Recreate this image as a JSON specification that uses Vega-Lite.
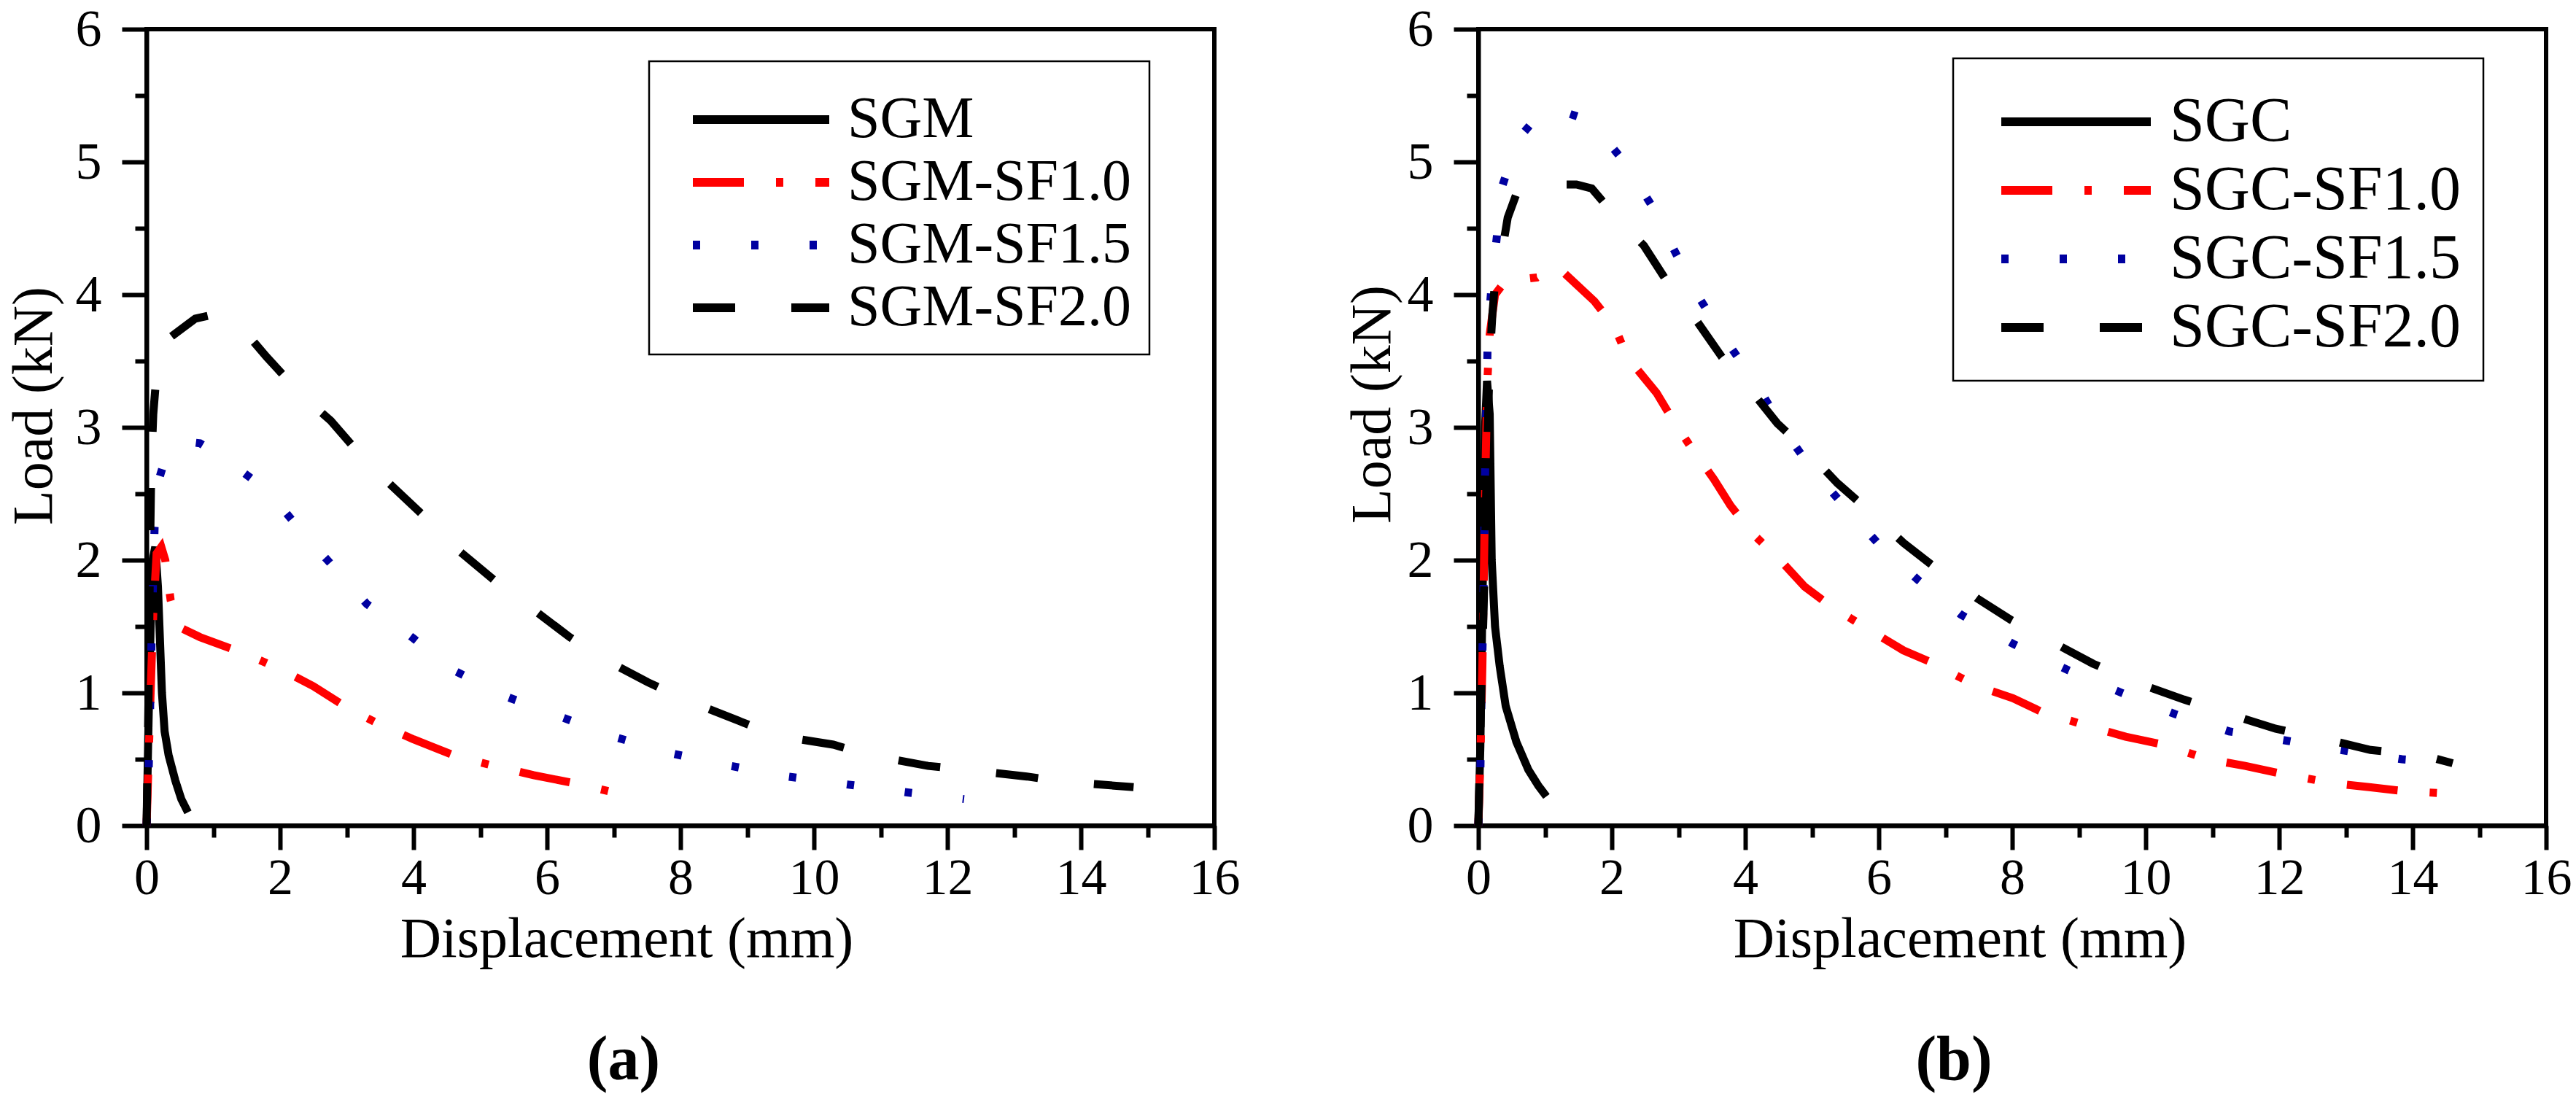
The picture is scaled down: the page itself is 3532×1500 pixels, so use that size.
{
  "$schema": "https://vega.github.io/schema/vega-lite/v6.json",
  "padding": {"left": 5, "top": 1, "right": 0, "bottom": 0},
  "background": "white",
  "spacing": 362,
  "bounds": "flush",
  "hconcat": [
    {
      "width": 1464,
      "height": 1092,
      "title": {"text": "(a)", "dx": -78, "offset": 85},
      "data": {"values": [
        {"x": 0, "y": 0, "s": "SGM"}, {"x": 0.03, "y": 0.8, "s": "SGM"}, {"x": 0.06, "y": 1.5, "s": "SGM"}, {"x": 0.09, "y": 2.0, "s": "SGM"},
        {"x": 0.13, "y": 2.1, "s": "SGM"}, {"x": 0.17, "y": 1.8, "s": "SGM"}, {"x": 0.2, "y": 1.4, "s": "SGM"}, {"x": 0.23, "y": 1.0, "s": "SGM"},
        {"x": 0.27, "y": 0.71, "s": "SGM"}, {"x": 0.33, "y": 0.53, "s": "SGM"}, {"x": 0.43, "y": 0.34, "s": "SGM"}, {"x": 0.52, "y": 0.2, "s": "SGM"},
        {"x": 0.62, "y": 0.1, "s": "SGM"},

        {"x": 0, "y": 0, "s": "SGM-SF1.0"}, {"x": 0.03, "y": 0.5, "s": "SGM-SF1.0"}, {"x": 0.06, "y": 1.0, "s": "SGM-SF1.0"}, {"x": 0.1, "y": 1.6, "s": "SGM-SF1.0"},
        {"x": 0.15, "y": 2.05, "s": "SGM-SF1.0"}, {"x": 0.22, "y": 2.1, "s": "SGM-SF1.0"}, {"x": 0.28, "y": 2.0, "s": "SGM-SF1.0"}, {"x": 0.36, "y": 1.7, "s": "SGM-SF1.0"},
        {"x": 0.47, "y": 1.5, "s": "SGM-SF1.0"}, {"x": 0.8, "y": 1.42, "s": "SGM-SF1.0"}, {"x": 1.5, "y": 1.29, "s": "SGM-SF1.0"}, {"x": 2.0, "y": 1.18, "s": "SGM-SF1.0"},
        {"x": 2.5, "y": 1.05, "s": "SGM-SF1.0"}, {"x": 3.0, "y": 0.89, "s": "SGM-SF1.0"}, {"x": 3.5, "y": 0.76, "s": "SGM-SF1.0"}, {"x": 4.0, "y": 0.65, "s": "SGM-SF1.0"},
        {"x": 4.6, "y": 0.53, "s": "SGM-SF1.0"}, {"x": 5.2, "y": 0.45, "s": "SGM-SF1.0"}, {"x": 5.8, "y": 0.38, "s": "SGM-SF1.0"}, {"x": 6.4, "y": 0.32, "s": "SGM-SF1.0"},
        {"x": 7.0, "y": 0.25, "s": "SGM-SF1.0"},

        {"x": 0, "y": 0, "s": "SGM-SF1.5"}, {"x": 0.03, "y": 0.4, "s": "SGM-SF1.5"}, {"x": 0.05, "y": 0.8, "s": "SGM-SF1.5"}, {"x": 0.06, "y": 1.1, "s": "SGM-SF1.5"},
        {"x": 0.08, "y": 1.5, "s": "SGM-SF1.5"}, {"x": 0.1, "y": 1.9, "s": "SGM-SF1.5"}, {"x": 0.12, "y": 2.25, "s": "SGM-SF1.5"}, {"x": 0.18, "y": 2.6, "s": "SGM-SF1.5"},
        {"x": 0.3, "y": 2.8, "s": "SGM-SF1.5"}, {"x": 0.48, "y": 2.9, "s": "SGM-SF1.5"}, {"x": 0.8, "y": 2.88, "s": "SGM-SF1.5"}, {"x": 1.1, "y": 2.79, "s": "SGM-SF1.5"},
        {"x": 1.8, "y": 2.53, "s": "SGM-SF1.5"}, {"x": 2.3, "y": 2.23, "s": "SGM-SF1.5"}, {"x": 2.8, "y": 1.95, "s": "SGM-SF1.5"}, {"x": 3.3, "y": 1.67, "s": "SGM-SF1.5"},
        {"x": 4.0, "y": 1.41, "s": "SGM-SF1.5"}, {"x": 4.6, "y": 1.17, "s": "SGM-SF1.5"}, {"x": 5.4, "y": 0.97, "s": "SGM-SF1.5"}, {"x": 6.2, "y": 0.82, "s": "SGM-SF1.5"},
        {"x": 7.0, "y": 0.67, "s": "SGM-SF1.5"}, {"x": 7.9, "y": 0.54, "s": "SGM-SF1.5"}, {"x": 8.75, "y": 0.45, "s": "SGM-SF1.5"}, {"x": 9.6, "y": 0.37, "s": "SGM-SF1.5"},
        {"x": 10.5, "y": 0.31, "s": "SGM-SF1.5"}, {"x": 11.4, "y": 0.25, "s": "SGM-SF1.5"}, {"x": 12.25, "y": 0.2, "s": "SGM-SF1.5"},

        {"x": 0, "y": 0, "s": "SGM-SF2.0"}, {"x": 0.03, "y": 1.0, "s": "SGM-SF2.0"}, {"x": 0.05, "y": 2.0, "s": "SGM-SF2.0"}, {"x": 0.07, "y": 2.7, "s": "SGM-SF2.0"},
        {"x": 0.1, "y": 3.1, "s": "SGM-SF2.0"}, {"x": 0.14, "y": 3.35, "s": "SGM-SF2.0"}, {"x": 0.36, "y": 3.68, "s": "SGM-SF2.0"}, {"x": 0.73, "y": 3.82, "s": "SGM-SF2.0"},
        {"x": 1.0, "y": 3.85, "s": "SGM-SF2.0"}, {"x": 1.41, "y": 3.76, "s": "SGM-SF2.0"}, {"x": 1.8, "y": 3.53, "s": "SGM-SF2.0"}, {"x": 2.33, "y": 3.24, "s": "SGM-SF2.0"},
        {"x": 2.76, "y": 3.05, "s": "SGM-SF2.0"}, {"x": 3.26, "y": 2.76, "s": "SGM-SF2.0"}, {"x": 3.63, "y": 2.58, "s": "SGM-SF2.0"}, {"x": 4.18, "y": 2.32, "s": "SGM-SF2.0"},
        {"x": 4.61, "y": 2.1, "s": "SGM-SF2.0"}, {"x": 5.23, "y": 1.84, "s": "SGM-SF2.0"}, {"x": 5.66, "y": 1.68, "s": "SGM-SF2.0"}, {"x": 6.34, "y": 1.42, "s": "SGM-SF2.0"},
        {"x": 6.83, "y": 1.26, "s": "SGM-SF2.0"}, {"x": 7.51, "y": 1.08, "s": "SGM-SF2.0"}, {"x": 8.07, "y": 0.95, "s": "SGM-SF2.0"}, {"x": 8.87, "y": 0.79, "s": "SGM-SF2.0"},
        {"x": 9.42, "y": 0.68, "s": "SGM-SF2.0"}, {"x": 10.29, "y": 0.61, "s": "SGM-SF2.0"}, {"x": 10.84, "y": 0.53, "s": "SGM-SF2.0"}, {"x": 11.71, "y": 0.45, "s": "SGM-SF2.0"},
        {"x": 12.29, "y": 0.42, "s": "SGM-SF2.0"}, {"x": 13.19, "y": 0.37, "s": "SGM-SF2.0"}, {"x": 13.74, "y": 0.33, "s": "SGM-SF2.0"}, {"x": 14.79, "y": 0.29, "s": "SGM-SF2.0"}
      ]},
      "layer": [
        {
          "mark": {"type": "line", "strokeWidth": 11, "strokeCap": "butt"},
          "encoding": {
            "x": {"field": "x", "type": "quantitative", "scale": {"domain": [0, 16]},
              "axis": {"values": [0, 2, 4, 6, 8, 10, 12, 14, 16], "tickSize": 33, "labelFontSize": 70, "labelPadding": 60, "labelBaseline": "alphabetic",
                "title": "Displacement (mm)", "titleFontSize": 78, "titleX": 658, "titleY": 179, "titleAlign": "center", "titleBaseline": "alphabetic", "titleAngle": 0}},
            "y": {"field": "y", "type": "quantitative", "scale": {"domain": [0, 6]},
              "axis": {"values": [0, 1, 2, 3, 4, 5, 6], "tickSize": 34, "labelFontSize": 72, "labelPadding": 28,
                "title": "Load (kN)", "titleFontSize": 78, "titleX": -131, "titleY": 516, "titleAlign": "center", "titleBaseline": "alphabetic", "titleAngle": -90}},
            "color": {"field": "s", "type": "nominal",
              "scale": {"domain": ["SGM", "SGM-SF1.0", "SGM-SF1.5", "SGM-SF2.0"], "range": ["#000000", "#FF0000", "#0000A0", "#000000"]},
              "legend": {"title": " ", "titleFontSize": 10, "titlePadding": 6, "orient": "none", "legendX": 689, "legendY": 44, "padding": 24,
                "symbolType": "M-5,0L5,0", "symbolSize": 1399, "symbolStrokeWidth": 12, "symbolOffset": 89.5, "labelOffset": 78.5, "labelFontSize": 80, "rowPadding": 6}},
            "strokeDash": {"field": "s", "type": "nominal",
              "scale": {"domain": ["SGM", "SGM-SF1.0", "SGM-SF1.5", "SGM-SF2.0"], "range": [[1, 0], [70, 44, 10, 44], [10, 70], [58, 77]]},
              "legend": {"title": " ", "titleFontSize": 10, "titlePadding": 6, "orient": "none", "legendX": 689, "legendY": 44, "padding": 24,
                "symbolType": "M-5,0L5,0", "symbolSize": 1399, "symbolStrokeWidth": 12, "symbolOffset": 89.5, "labelOffset": 78.5, "labelFontSize": 80, "rowPadding": 6}}
          }
        },
        {
          "mark": {"type": "point", "opacity": 0},
          "encoding": {
            "x": {"field": "x", "type": "quantitative", "scale": {"domain": [0, 16]},
              "axis": {"orient": "bottom", "values": [1, 3, 5, 7, 9, 11, 13, 15], "tickSize": 16, "labels": false, "domain": false, "title": null}},
            "y": {"field": "y", "type": "quantitative", "scale": {"domain": [0, 6]},
              "axis": {"orient": "left", "values": [0.5, 1.5, 2.5, 3.5, 4.5, 5.5], "tickSize": 16, "labels": false, "domain": false, "title": null}}
          }
        }
      ],
      "resolve": {"axis": {"x": "independent", "y": "independent"}}
    },
    {
      "width": 1464,
      "height": 1092,
      "title": {"text": "(b)", "dx": -80, "offset": 85},
      "data": {"values": [
        {"x": 0, "y": 0, "s": "SGC"}, {"x": 0.03, "y": 0.6, "s": "SGC"}, {"x": 0.05, "y": 1.3, "s": "SGC"}, {"x": 0.08, "y": 2.3, "s": "SGC"},
        {"x": 0.1, "y": 3.0, "s": "SGC"}, {"x": 0.13, "y": 3.35, "s": "SGC"}, {"x": 0.17, "y": 3.1, "s": "SGC"}, {"x": 0.2, "y": 2.0, "s": "SGC"},
        {"x": 0.25, "y": 1.5, "s": "SGC"}, {"x": 0.32, "y": 1.2, "s": "SGC"}, {"x": 0.41, "y": 0.9, "s": "SGC"}, {"x": 0.57, "y": 0.63, "s": "SGC"},
        {"x": 0.75, "y": 0.42, "s": "SGC"}, {"x": 0.9, "y": 0.3, "s": "SGC"}, {"x": 1.02, "y": 0.22, "s": "SGC"},

        {"x": 0, "y": 0, "s": "SGC-SF1.0"}, {"x": 0.03, "y": 0.5, "s": "SGC-SF1.0"}, {"x": 0.06, "y": 1.2, "s": "SGC-SF1.0"}, {"x": 0.08, "y": 1.8, "s": "SGC-SF1.0"},
        {"x": 0.1, "y": 2.5, "s": "SGC-SF1.0"}, {"x": 0.12, "y": 3.0, "s": "SGC-SF1.0"}, {"x": 0.14, "y": 3.4, "s": "SGC-SF1.0"}, {"x": 0.17, "y": 3.7, "s": "SGC-SF1.0"},
        {"x": 0.25, "y": 4.0, "s": "SGC-SF1.0"}, {"x": 0.4, "y": 4.1, "s": "SGC-SF1.0"}, {"x": 0.88, "y": 4.13, "s": "SGC-SF1.0"}, {"x": 1.1, "y": 4.2, "s": "SGC-SF1.0"},
        {"x": 1.25, "y": 4.18, "s": "SGC-SF1.0"}, {"x": 1.74, "y": 3.95, "s": "SGC-SF1.0"}, {"x": 2.05, "y": 3.75, "s": "SGC-SF1.0"}, {"x": 2.23, "y": 3.53, "s": "SGC-SF1.0"},
        {"x": 2.67, "y": 3.26, "s": "SGC-SF1.0"}, {"x": 2.91, "y": 3.06, "s": "SGC-SF1.0"}, {"x": 3.16, "y": 2.87, "s": "SGC-SF1.0"}, {"x": 3.53, "y": 2.61, "s": "SGC-SF1.0"},
        {"x": 3.78, "y": 2.41, "s": "SGC-SF1.0"}, {"x": 4.09, "y": 2.21, "s": "SGC-SF1.0"}, {"x": 4.56, "y": 1.98, "s": "SGC-SF1.0"}, {"x": 4.89, "y": 1.8, "s": "SGC-SF1.0"},
        {"x": 5.26, "y": 1.66, "s": "SGC-SF1.0"}, {"x": 5.94, "y": 1.45, "s": "SGC-SF1.0"}, {"x": 6.37, "y": 1.32, "s": "SGC-SF1.0"}, {"x": 6.74, "y": 1.24, "s": "SGC-SF1.0"},
        {"x": 7.48, "y": 1.05, "s": "SGC-SF1.0"}, {"x": 8.01, "y": 0.96, "s": "SGC-SF1.0"}, {"x": 8.47, "y": 0.85, "s": "SGC-SF1.0"}, {"x": 9.21, "y": 0.74, "s": "SGC-SF1.0"},
        {"x": 9.7, "y": 0.67, "s": "SGC-SF1.0"}, {"x": 10.26, "y": 0.61, "s": "SGC-SF1.0"}, {"x": 10.94, "y": 0.5, "s": "SGC-SF1.0"}, {"x": 11.49, "y": 0.45, "s": "SGC-SF1.0"},
        {"x": 12.05, "y": 0.39, "s": "SGC-SF1.0"}, {"x": 12.79, "y": 0.32, "s": "SGC-SF1.0"}, {"x": 13.35, "y": 0.29, "s": "SGC-SF1.0"}, {"x": 13.86, "y": 0.26, "s": "SGC-SF1.0"},
        {"x": 14.6, "y": 0.24, "s": "SGC-SF1.0"},

        {"x": 0, "y": 0, "s": "SGC-SF1.5"}, {"x": 0.03, "y": 0.4, "s": "SGC-SF1.5"}, {"x": 0.05, "y": 1.1, "s": "SGC-SF1.5"}, {"x": 0.07, "y": 1.5, "s": "SGC-SF1.5"},
        {"x": 0.09, "y": 2.2, "s": "SGC-SF1.5"}, {"x": 0.11, "y": 3.0, "s": "SGC-SF1.5"}, {"x": 0.13, "y": 3.35, "s": "SGC-SF1.5"}, {"x": 0.14, "y": 3.7, "s": "SGC-SF1.5"},
        {"x": 0.2, "y": 4.08, "s": "SGC-SF1.5"}, {"x": 0.28, "y": 4.45, "s": "SGC-SF1.5"}, {"x": 0.36, "y": 4.82, "s": "SGC-SF1.5"}, {"x": 0.59, "y": 5.17, "s": "SGC-SF1.5"},
        {"x": 1.02, "y": 5.42, "s": "SGC-SF1.5"}, {"x": 1.68, "y": 5.31, "s": "SGC-SF1.5"}, {"x": 2.17, "y": 5.01, "s": "SGC-SF1.5"}, {"x": 2.6, "y": 4.67, "s": "SGC-SF1.5"},
        {"x": 2.94, "y": 4.33, "s": "SGC-SF1.5"}, {"x": 3.28, "y": 4.0, "s": "SGC-SF1.5"}, {"x": 3.69, "y": 3.67, "s": "SGC-SF1.5"}, {"x": 4.15, "y": 3.34, "s": "SGC-SF1.5"},
        {"x": 4.54, "y": 3.01, "s": "SGC-SF1.5"}, {"x": 4.99, "y": 2.69, "s": "SGC-SF1.5"}, {"x": 5.48, "y": 2.41, "s": "SGC-SF1.5"}, {"x": 6.0, "y": 2.12, "s": "SGC-SF1.5"},
        {"x": 6.59, "y": 1.85, "s": "SGC-SF1.5"}, {"x": 7.23, "y": 1.59, "s": "SGC-SF1.5"}, {"x": 8.01, "y": 1.37, "s": "SGC-SF1.5"}, {"x": 8.84, "y": 1.17, "s": "SGC-SF1.5"},
        {"x": 9.64, "y": 1.0, "s": "SGC-SF1.5"}, {"x": 10.44, "y": 0.84, "s": "SGC-SF1.5"}, {"x": 11.25, "y": 0.71, "s": "SGC-SF1.5"}, {"x": 12.11, "y": 0.64, "s": "SGC-SF1.5"},
        {"x": 13.04, "y": 0.56, "s": "SGC-SF1.5"}, {"x": 13.84, "y": 0.5, "s": "SGC-SF1.5"}, {"x": 14.58, "y": 0.47, "s": "SGC-SF1.5"},

        {"x": 0, "y": 0, "s": "SGC-SF2.0"}, {"x": 0.03, "y": 0.7, "s": "SGC-SF2.0"}, {"x": 0.06, "y": 1.3, "s": "SGC-SF2.0"}, {"x": 0.08, "y": 1.65, "s": "SGC-SF2.0"},
        {"x": 0.1, "y": 2.1, "s": "SGC-SF2.0"}, {"x": 0.13, "y": 2.8, "s": "SGC-SF2.0"}, {"x": 0.17, "y": 3.5, "s": "SGC-SF2.0"}, {"x": 0.21, "y": 3.85, "s": "SGC-SF2.0"},
        {"x": 0.25, "y": 4.1, "s": "SGC-SF2.0"}, {"x": 0.36, "y": 4.34, "s": "SGC-SF2.0"}, {"x": 0.44, "y": 4.58, "s": "SGC-SF2.0"}, {"x": 0.6, "y": 4.8, "s": "SGC-SF2.0"},
        {"x": 0.94, "y": 4.83, "s": "SGC-SF2.0"}, {"x": 1.47, "y": 4.83, "s": "SGC-SF2.0"}, {"x": 1.7, "y": 4.8, "s": "SGC-SF2.0"}, {"x": 2.07, "y": 4.58, "s": "SGC-SF2.0"},
        {"x": 2.48, "y": 4.37, "s": "SGC-SF2.0"}, {"x": 2.89, "y": 4.05, "s": "SGC-SF2.0"}, {"x": 3.22, "y": 3.84, "s": "SGC-SF2.0"}, {"x": 3.65, "y": 3.53, "s": "SGC-SF2.0"},
        {"x": 4.02, "y": 3.32, "s": "SGC-SF2.0"}, {"x": 4.48, "y": 3.03, "s": "SGC-SF2.0"}, {"x": 4.89, "y": 2.84, "s": "SGC-SF2.0"}, {"x": 5.38, "y": 2.58, "s": "SGC-SF2.0"},
        {"x": 5.81, "y": 2.39, "s": "SGC-SF2.0"}, {"x": 6.37, "y": 2.13, "s": "SGC-SF2.0"}, {"x": 6.83, "y": 1.95, "s": "SGC-SF2.0"}, {"x": 7.48, "y": 1.71, "s": "SGC-SF2.0"},
        {"x": 7.98, "y": 1.55, "s": "SGC-SF2.0"}, {"x": 8.65, "y": 1.37, "s": "SGC-SF2.0"}, {"x": 9.21, "y": 1.22, "s": "SGC-SF2.0"}, {"x": 10.01, "y": 1.05, "s": "SGC-SF2.0"},
        {"x": 10.57, "y": 0.95, "s": "SGC-SF2.0"}, {"x": 11.37, "y": 0.82, "s": "SGC-SF2.0"}, {"x": 11.95, "y": 0.73, "s": "SGC-SF2.0"}, {"x": 12.79, "y": 0.64, "s": "SGC-SF2.0"},
        {"x": 13.37, "y": 0.57, "s": "SGC-SF2.0"}, {"x": 14.15, "y": 0.53, "s": "SGC-SF2.0"}, {"x": 14.6, "y": 0.47, "s": "SGC-SF2.0"}
      ]},
      "layer": [
        {
          "mark": {"type": "line", "strokeWidth": 11, "strokeCap": "butt"},
          "encoding": {
            "x": {"field": "x", "type": "quantitative", "scale": {"domain": [0, 16]},
              "axis": {"values": [0, 2, 4, 6, 8, 10, 12, 14, 16], "tickSize": 33, "labelFontSize": 70, "labelPadding": 60, "labelBaseline": "alphabetic",
                "title": "Displacement (mm)", "titleFontSize": 78, "titleX": 660, "titleY": 179, "titleAlign": "center", "titleBaseline": "alphabetic", "titleAngle": 0}},
            "y": {"field": "y", "type": "quantitative", "scale": {"domain": [0, 6]},
              "axis": {"values": [0, 1, 2, 3, 4, 5, 6], "tickSize": 34, "labelFontSize": 72, "labelPadding": 28,
                "title": "Load (kN)", "titleFontSize": 78, "titleX": -122, "titleY": 514, "titleAlign": "center", "titleBaseline": "alphabetic", "titleAngle": -90}},
            "color": {"field": "s", "type": "nominal",
              "scale": {"domain": ["SGC", "SGC-SF1.0", "SGC-SF1.5", "SGC-SF2.0"], "range": ["#000000", "#FF0000", "#0000A0", "#000000"]},
              "legend": {"title": " ", "titleFontSize": 8, "titlePadding": 6, "orient": "none", "legendX": 651, "legendY": 40, "padding": 30,
                "symbolType": "M-5,0L5,0", "symbolSize": 1681, "symbolStrokeWidth": 12, "symbolOffset": 95.5, "labelOffset": 85.5, "labelFontSize": 86, "rowPadding": 8}},
            "strokeDash": {"field": "s", "type": "nominal",
              "scale": {"domain": ["SGC", "SGC-SF1.0", "SGC-SF1.5", "SGC-SF2.0"], "range": [[1, 0], [70, 44, 10, 44], [10, 70], [58, 77]]},
              "legend": {"title": " ", "titleFontSize": 8, "titlePadding": 6, "orient": "none", "legendX": 651, "legendY": 40, "padding": 30,
                "symbolType": "M-5,0L5,0", "symbolSize": 1681, "symbolStrokeWidth": 12, "symbolOffset": 95.5, "labelOffset": 85.5, "labelFontSize": 86, "rowPadding": 8}}
          }
        },
        {
          "mark": {"type": "point", "opacity": 0},
          "encoding": {
            "x": {"field": "x", "type": "quantitative", "scale": {"domain": [0, 16]},
              "axis": {"orient": "bottom", "values": [1, 3, 5, 7, 9, 11, 13, 15], "tickSize": 16, "labels": false, "domain": false, "title": null}},
            "y": {"field": "y", "type": "quantitative", "scale": {"domain": [0, 6]},
              "axis": {"orient": "left", "values": [0.5, 1.5, 2.5, 3.5, 4.5, 5.5], "tickSize": 16, "labels": false, "domain": false, "title": null}}
          }
        }
      ],
      "resolve": {"axis": {"x": "independent", "y": "independent"}}
    }
  ],
  "resolve": {"scale": {"color": "independent", "strokeDash": "independent"}, "legend": {"color": "independent", "strokeDash": "independent"}},
  "config": {
    "font": "Liberation Serif",
    "view": {"stroke": "black", "strokeWidth": 6},
    "axis": {"grid": false, "domainColor": "black", "domainWidth": 6, "tickColor": "black", "tickWidth": 6,
      "labelColor": "black", "labelFont": "Liberation Serif", "titleColor": "black", "titleFont": "Liberation Serif", "titleFontWeight": "normal",
      "labelFlush": false, "labelOverlap": false},
    "legend": {"strokeColor": "black", "strokeWidth": 2.5, "labelFont": "Liberation Serif", "labelColor": "black", "labelLimit": 0, "titleFont": "Liberation Serif"},
    "title": {"font": "Liberation Serif", "fontSize": 86, "fontWeight": "bold", "color": "black", "orient": "bottom"}
  }
}
